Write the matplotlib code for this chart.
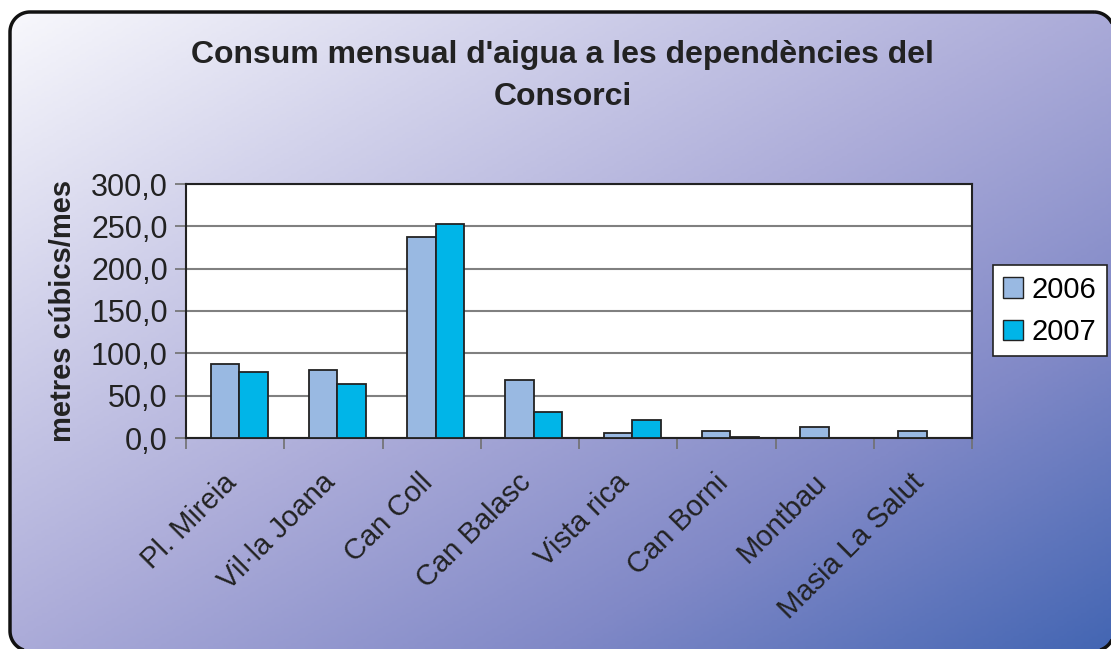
import numpy as np
import matplotlib.pyplot as plt
from matplotlib.patches import Polygon
from matplotlib.colors import LinearSegmentedColormap

plt.rcParams['font.family'] = ['Liberation Sans', 'DejaVu Sans']

#%% data
llocs = ['Pl. Mireia', 'Vil·la Joana', 'Can Coll', 'Can Balasc', 'Vista rica',
         'Can Borni', 'Montbau', 'Masia La Salut']
any2006 = [87.3, 80.2, 237.0, 68.3, 6.3, 8.7, 13.5, 8.7]
any2007 = [77.8, 63.5, 252.5, 30.2, 21.0, 1.6, 0.0, 0.0]
yticks = [0, 50, 100, 150, 200, 250, 300]

W, H = 1111, 649
fig = plt.figure(figsize=(W/100, H/100), dpi=100)


def rounded_rect(x0, y0, x1, y1, r, n=20):
    # corners in pixel coords (y down), returns closed outline
    pts = []
    for cx, cy, a0 in [(x1 - r, y0 + r, -90), (x1 - r, y1 - r, 0), (x0 + r, y1 - r, 90), (x0 + r, y0 + r, 180)]:
        a = np.radians(np.linspace(a0, a0 + 90, n))
        pts += list(zip(cx + r*np.cos(a), cy + r*np.sin(a)))
    return np.array(pts)


#%% background gradient in rounded frame (pixel coords, y down)
bg = fig.add_axes([0, 0, 1, 1], zorder=-10)
bg.set_xlim(0, W)
bg.set_ylim(H, 0)
bg.axis('off')
xx, yy = np.meshgrid(np.linspace(0, 1, 400), np.linspace(0, 1, 250))
t = (xx + yy) / 2
cmap = LinearSegmentedColormap.from_list('fons', [(0, '#fafafd'), (0.25, '#d2d2eb'), (0.5, '#acacd9'),
                                                  (0.75, '#8189c7'), (1, '#4466b3')])
im = bg.imshow(t, cmap=cmap, extent=[0, W, H, 0], aspect='auto', vmin=0, vmax=1)
frame = Polygon(rounded_rect(10, 12, 1114, 651, 20), closed=True, fc='none', ec='#111111', lw=2.5,
                transform=bg.transData)
bg.add_patch(frame)
im.set_clip_path(frame)

#%% bars
ax = fig.add_axes([186/W, 1-438/H, (972-186)/W, (438-184)/H])
x = np.arange(len(llocs))
w = 0.29
ax.bar(x - w/2 + 0.04, any2006, w, color='#99b9e2', edgecolor='#222222', lw=1.3, label='2006', zorder=3)
ax.bar(x + w/2 + 0.04, any2007, w, color='#00b5e8', edgecolor='#222222', lw=1.3, label='2007', zorder=3)

ax.set_xlim(-0.5, len(llocs) - 0.5)
ax.set_ylim(0, 300)
ax.set_yticks(yticks)
ax.set_yticklabels([('%.1f' % v).replace('.', ',') for v in yticks], fontsize=22, color='#222222')
ax.yaxis.grid(True, color='#808080', lw=1.5, zorder=0)
ax.set_xticks(np.arange(len(llocs) + 1) - 0.5)
ax.set_xticklabels([])
ax.tick_params(axis='x', length=8, color='#707070', width=1.2)
ax.tick_params(axis='y', length=8, color='#707070', width=1.2, pad=5)
for s in ax.spines.values():
    s.set_color('#222222')
    s.set_linewidth(1.5)

for i, nom in enumerate(llocs):
    ax.annotate(nom, xy=(i - 0.03, 0), xycoords=('data', 'axes fraction'),
                xytext=(0, -29), textcoords='offset points', color='#222222',
                rotation=45, rotation_mode='anchor', ha='right', va='center', fontsize=21)

ax.set_ylabel('metres cúbics/mes', fontsize=21, fontweight='bold', labelpad=10, color='#222222')

fig.text(562/W, 1-55/H, "Consum mensual d'aigua a les dependències del",
         ha='center', va='center', fontsize=23, fontweight='bold', color='#222222')
fig.text(563/W, 1-97/H, "Consorci",
         ha='center', va='center', fontsize=23, fontweight='bold', color='#222222')

leg = ax.legend(loc='center', bbox_to_anchor=(1050/W, 1-311/H), bbox_transform=fig.transFigure,
                fontsize=21, frameon=True, fancybox=False, edgecolor='#222222', framealpha=1,
                handlelength=0.68, handleheight=0.68, handletextpad=0.3, labelspacing=0.5,
                borderpad=0.35, borderaxespad=0)
leg.get_frame().set_linewidth(1.2)
for h in leg.legend_handles:
    h.set_linewidth(1.0)

plt.savefig('out.png', dpi=100)
